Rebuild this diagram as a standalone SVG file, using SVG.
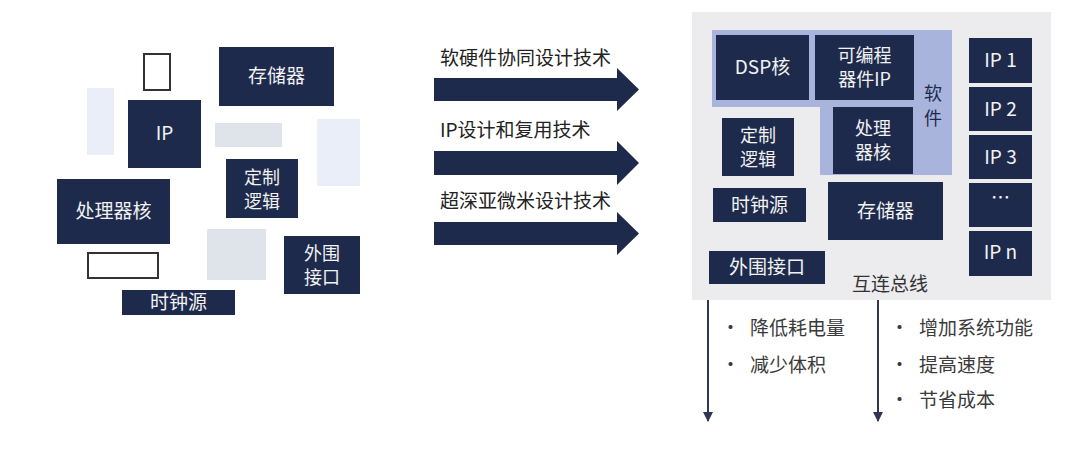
<svg xmlns="http://www.w3.org/2000/svg" width="1080" height="453" viewBox="0 0 1080 453">
<style>
text{font-family:"Noto Sans CJK SC","Noto Sans",sans-serif;}
.box{fill:#1e2a4c;}
.bt{fill:#f2f2f2;font-size:19px;text-anchor:middle;}
.bt2{fill:#f2f2f2;font-size:18px;text-anchor:middle;}
.out{fill:#fff;stroke:#333;stroke-width:2;}
.pale{fill:#e9eef9;}
.grey{fill:#dfe3ea;}
.lbl{fill:#222;font-size:19px;}
.blt{fill:#3a3a3a;font-size:19px;}
</style>
<defs>
<marker id="ah" viewBox="0 0 10 10" refX="9" refY="5" markerWidth="10" markerHeight="10" markerUnits="userSpaceOnUse" orient="auto">
<path d="M0,0 L10,5 L0,10 z" fill="#2f3553"/>
</marker>
</defs>
<rect width="1080" height="453" fill="#fff"/>

<!-- left: scattered blocks -->
<g id="left-decor">
<rect class="out" x="144" y="54" width="26" height="36"/>
<rect class="pale" x="87" y="88" width="27" height="67"/>
<rect class="grey" x="215" y="123" width="67" height="24"/>
<rect class="pale" x="317" y="119" width="43" height="67"/>
<rect class="out" x="88" y="253" width="70" height="25"/>
<rect class="grey" x="207" y="229" width="59" height="51"/>
</g>
<g id="l-mem"><rect class="box" x="219" y="47" width="115" height="59"/><text class="bt" x="276.5" y="83">存储器</text></g>
<g id="l-ip"><rect class="box" x="128" y="100" width="73" height="68"/><text class="bt" x="164.5" y="140">IP</text></g>
<g id="l-logic"><rect class="box" x="226" y="159" width="72" height="59"/><text class="bt2" x="262" y="184">定制</text><text class="bt2" x="262" y="208">逻辑</text></g>
<g id="l-cpu"><rect class="box" x="57" y="179" width="113" height="65"/><text class="bt" x="113.5" y="218">处理器核</text></g>
<g id="l-periph"><rect class="box" x="284" y="236" width="76" height="58"/><text class="bt2" x="322" y="260">外围</text><text class="bt2" x="322" y="284">接口</text></g>
<g id="l-clock"><rect class="box" x="122" y="290" width="113" height="25"/><text class="bt" x="178.5" y="309">时钟源</text></g>

<!-- middle arrows -->
<g id="arrows">
<g id="arrow1"><text class="lbl" x="440" y="65">软硬件协同设计技术</text><polygon class="box" points="434,78 617,78 617,68 639,89.5 617,111 617,101 434,101"/></g>
<g id="arrow2"><text class="lbl" x="440" y="137">IP设计和复用技术</text><polygon class="box" points="434,151 617,151 617,141 639,163 617,185 617,175 434,175"/></g>
<g id="arrow3"><text class="lbl" x="440" y="208">超深亚微米设计技术</text><polygon class="box" points="434,222 617,222 617,212 639,233.5 617,255 617,245 434,245"/></g>
</g>

<!-- right: SoC -->
<g id="soc">
<rect x="692" y="12" width="359" height="288" fill="#ececef"/>
<polygon points="712,30 952,30 952,175 820,175 820,107 712,107" fill="#a9b4dc"/>
<text x="933" y="100" fill="#1e2a4c" font-size="18" text-anchor="middle">软</text>
<text x="933" y="125" fill="#1e2a4c" font-size="18" text-anchor="middle">件</text>
<text x="890" y="291" fill="#333" font-size="19" text-anchor="middle">互连总线</text>
</g>
<g id="r-dsp"><rect class="box" x="716" y="35" width="93" height="65"/><text class="bt" x="762.5" y="74">DSP核</text></g>
<g id="r-prog"><rect class="box" x="815" y="35" width="99" height="65"/><text class="bt2" x="864.5" y="62">可编程</text><text class="bt2" x="864.5" y="86">器件IP</text></g>
<g id="r-cpu"><rect class="box" x="833" y="107" width="80" height="67"/><text class="bt2" x="873" y="135">处理</text><text class="bt2" x="873" y="159">器核</text></g>
<g id="r-logic"><rect class="box" x="722" y="118" width="72" height="58"/><text class="bt2" x="758" y="142">定制</text><text class="bt2" x="758" y="166">逻辑</text></g>
<g id="r-clock"><rect class="box" x="713" y="188" width="93" height="34"/><text class="bt" x="759.5" y="212">时钟源</text></g>
<g id="r-mem"><rect class="box" x="828" y="182" width="115" height="58"/><text class="bt" x="885.5" y="218">存储器</text></g>
<g id="r-periph"><rect class="box" x="709" y="251" width="116" height="33"/><text class="bt" x="767" y="274">外围接口</text></g>
<g id="r-ip1"><rect class="box" x="969" y="38" width="63" height="45"/><text class="bt" x="1000.5" y="67">IP 1</text></g>
<g id="r-ip2"><rect class="box" x="969" y="87" width="63" height="44"/><text class="bt" x="1000.5" y="116">IP 2</text></g>
<g id="r-ip3"><rect class="box" x="969" y="135" width="63" height="44"/><text class="bt" x="1000.5" y="164">IP 3</text></g>
<g id="r-ipdots"><rect class="box" x="969" y="183" width="63" height="44"/><text class="bt" x="1000.5" y="205" font-size="14">…</text></g>
<g id="r-ipn"><rect class="box" x="969" y="231" width="63" height="45"/><text class="bt" x="1000.5" y="259">IP n</text></g>

<!-- bottom connectors -->
<g id="connectors" stroke="#2f3553" stroke-width="2" fill="none">
<line x1="708" y1="300" x2="708" y2="421" marker-end="url(#ah)"/>
<line x1="878" y1="300" x2="878" y2="421" marker-end="url(#ah)"/>
</g>
<g id="bullets">
<text class="blt" x="721" y="335">•</text><text class="blt" x="750" y="335">降低耗电量</text>
<text class="blt" x="721" y="372">•</text><text class="blt" x="750" y="372">减少体积</text>
<text class="blt" x="890" y="335">•</text><text class="blt" x="919" y="335">增加系统功能</text>
<text class="blt" x="890" y="372">•</text><text class="blt" x="919" y="372">提高速度</text>
<text class="blt" x="890" y="407">•</text><text class="blt" x="919" y="407">节省成本</text>
</g>
</svg>
